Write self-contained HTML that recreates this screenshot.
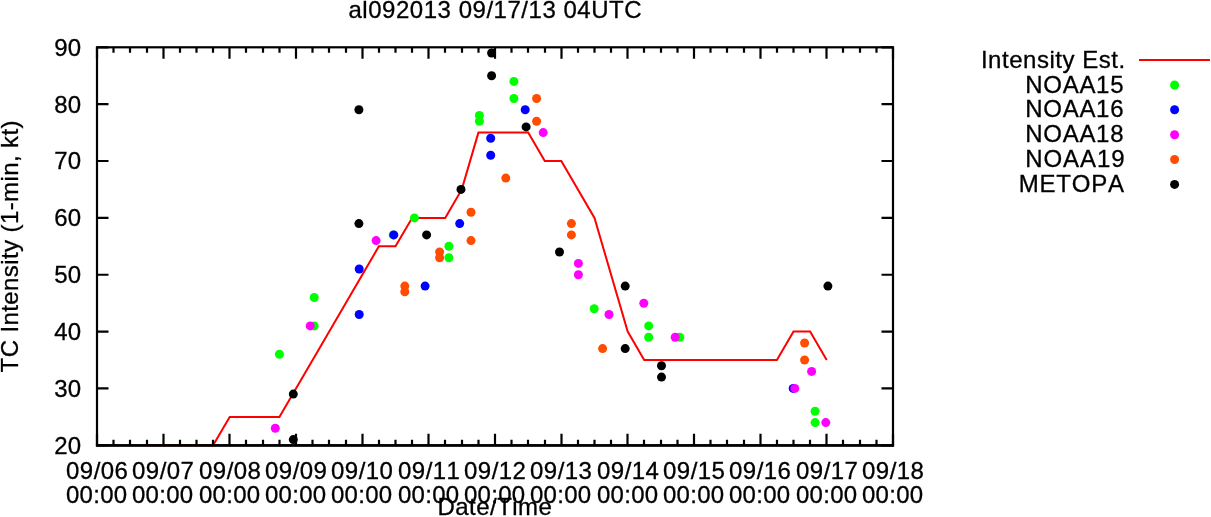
<!DOCTYPE html>
<html><head><meta charset="utf-8"><title>al092013 09/17/13 04UTC</title>
<style>
html,body{margin:0;padding:0;background:#fff;}
body{width:1211px;height:517px;overflow:hidden;position:relative;}
svg{position:absolute;left:0;top:0;display:block;}
text{font-family:"Liberation Sans",sans-serif;font-size:24px;fill:#000;font-kerning:none;stroke:#000;stroke-width:0.3px;}
.ax{stroke:#000;stroke-width:2.2;fill:none;}
.red{stroke:#ff0000;stroke-width:2;fill:none;stroke-linejoin:miter;}
</style></head><body>
<svg width="1211" height="517" viewBox="0 0 1211 517">

<polyline class="red" points="146.8,445.3 213.1,445.3 229.7,416.9 279.4,416.9 378.9,246.3 395.5,246.3 412.1,217.9 445.2,217.9 461.8,189.4 478.4,132.6 528.2,132.6 544.8,161.0 561.3,161.0 594.5,217.9 627.7,331.6 644.2,360.0 776.9,360.0 793.5,331.6 810.1,331.6 826.7,360.0"/>
<g fill="#00ff00"><circle cx="279.4" cy="354.3" r="4.5"/><circle cx="314.2" cy="297.5" r="4.5"/><circle cx="314.2" cy="325.9" r="4.5"/><circle cx="393.2" cy="234.9" r="4.5"/><circle cx="414.4" cy="217.9" r="4.5"/><circle cx="448.9" cy="246.3" r="4.5"/><circle cx="448.9" cy="257.7" r="4.5"/><circle cx="479.4" cy="115.5" r="4.5"/><circle cx="479.4" cy="121.2" r="4.5"/><circle cx="513.9" cy="81.4" r="4.5"/><circle cx="513.9" cy="98.5" r="4.5"/><circle cx="594.2" cy="308.8" r="4.5"/><circle cx="648.7" cy="325.9" r="4.5"/><circle cx="648.7" cy="337.3" r="4.5"/><circle cx="679.8" cy="337.3" r="4.5"/><circle cx="815.1" cy="411.2" r="4.5"/><circle cx="815.1" cy="422.6" r="4.5"/></g>
<g fill="#0000ff"><circle cx="359.2" cy="269.0" r="4.5"/><circle cx="359.2" cy="314.5" r="4.5"/><circle cx="393.8" cy="234.9" r="4.5"/><circle cx="425.1" cy="286.1" r="4.5"/><circle cx="459.7" cy="223.6" r="4.5"/><circle cx="490.7" cy="138.3" r="4.5"/><circle cx="490.7" cy="155.3" r="4.5"/><circle cx="525.2" cy="109.8" r="4.5"/><circle cx="793.2" cy="388.4" r="4.5"/></g>
<g fill="#ff00ff"><circle cx="275.3" cy="428.2" r="4.5"/><circle cx="310.2" cy="325.9" r="4.5"/><circle cx="376.1" cy="240.6" r="4.5"/><circle cx="543.2" cy="132.6" r="4.5"/><circle cx="578.4" cy="263.4" r="4.5"/><circle cx="578.4" cy="274.7" r="4.5"/><circle cx="609.0" cy="314.5" r="4.5"/><circle cx="643.8" cy="303.2" r="4.5"/><circle cx="675.2" cy="337.3" r="4.5"/><circle cx="794.8" cy="388.4" r="4.5"/><circle cx="811.6" cy="371.4" r="4.5"/><circle cx="825.8" cy="422.6" r="4.5"/></g>
<g fill="#ff4c00"><circle cx="404.8" cy="286.1" r="4.5"/><circle cx="404.8" cy="291.8" r="4.5"/><circle cx="439.6" cy="252.0" r="4.5"/><circle cx="439.6" cy="257.7" r="4.5"/><circle cx="471.0" cy="212.2" r="4.5"/><circle cx="471.0" cy="240.6" r="4.5"/><circle cx="505.8" cy="178.1" r="4.5"/><circle cx="536.6" cy="98.5" r="4.5"/><circle cx="536.6" cy="121.2" r="4.5"/><circle cx="571.4" cy="223.6" r="4.5"/><circle cx="571.4" cy="234.9" r="4.5"/><circle cx="602.6" cy="348.6" r="4.5"/><circle cx="804.6" cy="343.0" r="4.5"/><circle cx="804.6" cy="360.0" r="4.5"/></g>
<g fill="#000000"><circle cx="293.3" cy="394.1" r="4.5"/><circle cx="293.3" cy="439.6" r="4.5"/><circle cx="358.9" cy="109.8" r="4.5"/><circle cx="358.9" cy="223.6" r="4.5"/><circle cx="426.6" cy="234.9" r="4.5"/><circle cx="461.0" cy="189.4" r="4.5"/><circle cx="491.6" cy="53.0" r="4.5"/><circle cx="491.6" cy="75.7" r="4.5"/><circle cx="526.1" cy="126.9" r="4.5"/><circle cx="559.5" cy="252.0" r="4.5"/><circle cx="625.2" cy="286.1" r="4.5"/><circle cx="625.2" cy="348.6" r="4.5"/><circle cx="661.5" cy="365.7" r="4.5"/><circle cx="661.5" cy="377.1" r="4.5"/><circle cx="827.9" cy="286.1" r="4.5"/></g>
<rect class="ax" x="97.0" y="47.3" width="796.0" height="398.0"/>
<path class="ax" style="stroke-width:2.6" d="M95.9 445.55H894.1"/>
<path class="ax" d="M97.0 445.3v-11.5M97.0 47.3v11.5M113.5 445.3v-5.5M113.5 47.3v5.5M130.0 445.3v-5.5M130.0 47.3v5.5M147.0 445.3v-5.5M147.0 47.3v5.5M163.5 445.3v-11.5M163.5 47.3v11.5M180.0 445.3v-5.5M180.0 47.3v5.5M196.5 445.3v-5.5M196.5 47.3v5.5M213.0 445.3v-5.5M213.0 47.3v5.5M229.5 445.3v-11.5M229.5 47.3v11.5M246.0 445.3v-5.5M246.0 47.3v5.5M263.0 445.3v-5.5M263.0 47.3v5.5M279.5 445.3v-5.5M279.5 47.3v5.5M296.0 445.3v-11.5M296.0 47.3v11.5M312.5 445.3v-5.5M312.5 47.3v5.5M329.0 445.3v-5.5M329.0 47.3v5.5M346.0 445.3v-5.5M346.0 47.3v5.5M362.5 445.3v-11.5M362.5 47.3v11.5M379.0 445.3v-5.5M379.0 47.3v5.5M395.5 445.3v-5.5M395.5 47.3v5.5M412.0 445.3v-5.5M412.0 47.3v5.5M428.5 445.3v-11.5M428.5 47.3v11.5M445.0 445.3v-5.5M445.0 47.3v5.5M462.0 445.3v-5.5M462.0 47.3v5.5M478.5 445.3v-5.5M478.5 47.3v5.5M495.0 445.3v-11.5M495.0 47.3v11.5M511.5 445.3v-5.5M511.5 47.3v5.5M528.0 445.3v-5.5M528.0 47.3v5.5M545.0 445.3v-5.5M545.0 47.3v5.5M561.5 445.3v-11.5M561.5 47.3v11.5M578.0 445.3v-5.5M578.0 47.3v5.5M594.5 445.3v-5.5M594.5 47.3v5.5M611.0 445.3v-5.5M611.0 47.3v5.5M627.5 445.3v-11.5M627.5 47.3v11.5M644.0 445.3v-5.5M644.0 47.3v5.5M661.0 445.3v-5.5M661.0 47.3v5.5M677.5 445.3v-5.5M677.5 47.3v5.5M694.0 445.3v-11.5M694.0 47.3v11.5M710.5 445.3v-5.5M710.5 47.3v5.5M727.0 445.3v-5.5M727.0 47.3v5.5M744.0 445.3v-5.5M744.0 47.3v5.5M760.5 445.3v-11.5M760.5 47.3v11.5M777.0 445.3v-5.5M777.0 47.3v5.5M793.5 445.3v-5.5M793.5 47.3v5.5M810.0 445.3v-5.5M810.0 47.3v5.5M826.5 445.3v-11.5M826.5 47.3v11.5M843.0 445.3v-5.5M843.0 47.3v5.5M860.0 445.3v-5.5M860.0 47.3v5.5M876.5 445.3v-5.5M876.5 47.3v5.5M893.0 445.3v-11.5M893.0 47.3v11.5M97.0 445.3h11.5M893.0 445.3h-11.5M97.0 388.4428571428572h11.5M893.0 388.4428571428572h-11.5M97.0 331.5857142857143h11.5M893.0 331.5857142857143h-11.5M97.0 274.7285714285714h11.5M893.0 274.7285714285714h-11.5M97.0 217.8714285714286h11.5M893.0 217.8714285714286h-11.5M97.0 161.01428571428573h11.5M893.0 161.01428571428573h-11.5M97.0 104.15714285714284h11.5M893.0 104.15714285714284h-11.5M97.0 47.30000000000001h11.5M893.0 47.30000000000001h-11.5"/>
<text x="980.90" y="67.60" letter-spacing="0.531">Intensity Est.</text>
<path class="red" d="M1139 60H1210" style="shape-rendering:crispEdges"/>
<text x="1025.30" y="92.60" letter-spacing="0.700">NOAA15</text>
<circle cx="1174.6" cy="85.0" r="4.5" fill="#00ff00"/>
<text x="1025.30" y="117.40" letter-spacing="0.700">NOAA16</text>
<circle cx="1174.6" cy="109.8" r="4.5" fill="#0000ff"/>
<text x="1025.30" y="142.30" letter-spacing="0.700">NOAA18</text>
<circle cx="1174.6" cy="134.7" r="4.5" fill="#ff00ff"/>
<text x="1025.30" y="167.10" letter-spacing="0.900">NOAA19</text>
<circle cx="1174.6" cy="159.5" r="4.5" fill="#ff4c00"/>
<text x="1018.70" y="192.00" letter-spacing="0.780">METOPA</text>
<circle cx="1174.6" cy="184.4" r="4.5" fill="#000000"/>
<text x="348.50" y="17.60" letter-spacing="0.523">al092013 09/17/13 04UTC</text>
<text x="54.30" y="453.70" letter-spacing="0.100">20</text>
<text x="54.30" y="396.84" letter-spacing="0.100">30</text>
<text x="54.30" y="339.99" letter-spacing="0.100">40</text>
<text x="54.30" y="283.13" letter-spacing="0.100">50</text>
<text x="54.30" y="226.27" letter-spacing="0.100">60</text>
<text x="54.30" y="169.41" letter-spacing="0.100">70</text>
<text x="54.30" y="112.56" letter-spacing="0.100">80</text>
<text x="54.30" y="55.70" letter-spacing="0.100">90</text>
<text x="66.00" y="479.10" letter-spacing="0.475">09/06</text>
<text x="66.00" y="503.10" letter-spacing="0.275">00:00</text>
<text x="132.00" y="479.10" letter-spacing="0.475">09/07</text>
<text x="132.00" y="503.10" letter-spacing="0.275">00:00</text>
<text x="199.00" y="479.10" letter-spacing="0.475">09/08</text>
<text x="199.00" y="503.10" letter-spacing="0.275">00:00</text>
<text x="265.00" y="479.10" letter-spacing="0.475">09/09</text>
<text x="265.00" y="503.10" letter-spacing="0.275">00:00</text>
<text x="331.00" y="479.10" letter-spacing="0.475">09/10</text>
<text x="331.00" y="503.10" letter-spacing="0.275">00:00</text>
<text x="398.00" y="479.10" letter-spacing="0.475">09/11</text>
<text x="398.00" y="503.10" letter-spacing="0.275">00:00</text>
<text x="464.00" y="479.10" letter-spacing="0.475">09/12</text>
<text x="464.00" y="503.10" letter-spacing="0.275">00:00</text>
<text x="530.00" y="479.10" letter-spacing="0.475">09/13</text>
<text x="530.00" y="503.10" letter-spacing="0.275">00:00</text>
<text x="597.00" y="479.10" letter-spacing="0.475">09/14</text>
<text x="597.00" y="503.10" letter-spacing="0.275">00:00</text>
<text x="663.00" y="479.10" letter-spacing="0.475">09/15</text>
<text x="663.00" y="503.10" letter-spacing="0.275">00:00</text>
<text x="729.00" y="479.10" letter-spacing="0.475">09/16</text>
<text x="729.00" y="503.10" letter-spacing="0.275">00:00</text>
<text x="796.00" y="479.10" letter-spacing="0.475">09/17</text>
<text x="796.00" y="503.10" letter-spacing="0.275">00:00</text>
<text x="862.00" y="479.10" letter-spacing="0.475">09/18</text>
<text x="862.00" y="503.10" letter-spacing="0.275">00:00</text>
<text x="437.50" y="515.40" letter-spacing="0.463">Date/Time</text>
<text transform="translate(18.2,372.40) rotate(-90)" letter-spacing="0.400">TC Intensity (1-min, kt)</text>
</svg></body></html>
